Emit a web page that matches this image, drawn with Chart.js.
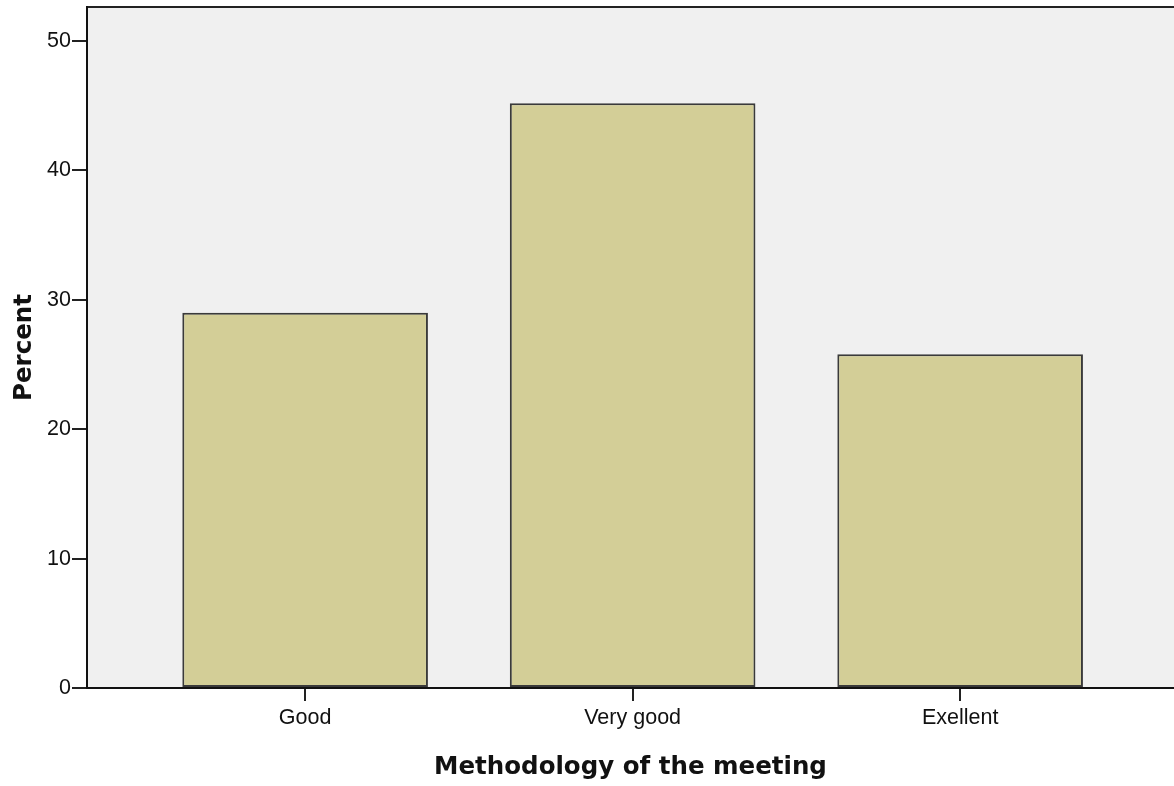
<!DOCTYPE html>
<html>
<head>
<meta charset="utf-8">
<script src="https://cdn.jsdelivr.net/npm/chart.js@4/dist/chart.umd.min.js"></script>
<style>
  html, body { margin: 0; padding: 0; background: #fff; }
  #wrap { width: 1174px; height: 786px; position: relative; }
</style>
</head>
<body>
<div id="wrap"><canvas id="chart"></canvas></div>
<script>
const categories = ["Good", "Very good", "Exellent"];
const percents = [29.0, 45.2, 25.8];
const yTicks = [0, 10, 20, 30, 40, 50];

// plot background + top frame line
const plotBackground = {
  id: "plotBackground",
  beforeDraw(chart) {
    const { ctx, chartArea: a } = chart;
    ctx.save();
    ctx.fillStyle = "#f0f0f0";
    ctx.fillRect(a.left, a.top, a.right - a.left, a.bottom - a.top);
    ctx.strokeStyle = "#222";
    ctx.lineWidth = 2;
    ctx.beginPath();
    ctx.moveTo(a.left, a.top);
    ctx.lineTo(a.right, a.top);
    ctx.stroke();
    ctx.restore();
  },
};

const tickFont = { family: "Liberation Sans, Arial, sans-serif", size: 21.5 };
const titleFont = { family: "DejaVu Sans", size: 24.5, weight: "bold" };

new Chart(document.getElementById("chart"), {
  type: "bar",
  data: {
    datasets: [
      {
        label: "Percent",
        data: percents.map((v, i) => ({ x: i + 1, y: v })),
        backgroundColor: "#d3ce97",
        borderColor: "#3a3a3a",
        borderWidth: 2,
        borderSkipped: false,
        barPercentage: 0.75,
        categoryPercentage: 1,
      },
    ],
  },
  plugins: [plotBackground],
  options: {
    responsive: true,
    maintainAspectRatio: false,
    animation: false,
    layout: { padding: { top: 7, right: 0, left: 0, bottom: 0 } },
    plugins: { legend: { display: false }, tooltip: { enabled: false } },
    scales: {
      x: {
        type: "linear",
        offset: false,
        min: 0.334,
        max: 3.653,
        afterFit(scale) {
          scale.height = 98;
          scale.paddingLeft = 0;
          scale.paddingRight = 0;
        },
        afterBuildTicks(scale) {
          scale.ticks = categories.map((c, i) => ({ value: i + 1 }));
        },
        border: { display: true, color: "#111", width: 2 },
        grid: { offset: false, drawOnChartArea: false, drawTicks: true, tickLength: 13, color: "#222", lineWidth: 2 },
        ticks: {
          padding: 4,
          color: "#111",
          font: tickFont,
          callback: (v) => categories[Math.round(v) - 1] || "",
        },
        title: {
          display: true,
          text: "Methodology of the meeting",
          color: "#111",
          font: titleFont,
          padding: { top: 0, bottom: 4 },
        },
      },
      y: {
        min: 0,
        max: 52.63,
        afterFit(scale) {
          scale.width = 87;
          scale.paddingTop = 0;
          scale.paddingBottom = 0;
        },
        afterBuildTicks(scale) {
          scale.ticks = yTicks.map((v) => ({ value: v }));
        },
        border: { display: true, color: "#111", width: 2 },
        grid: { drawOnChartArea: false, drawTicks: true, tickLength: 15, color: "#222", lineWidth: 2 },
        ticks: {
          padding: 1,
          color: "#111",
          font: tickFont,
        },
        title: {
          display: true,
          text: "Percent",
          color: "#111",
          font: titleFont,
          padding: { top: 10, bottom: 0 },
        },
      },
    },
  },
});
</script>
</body>
</html>
